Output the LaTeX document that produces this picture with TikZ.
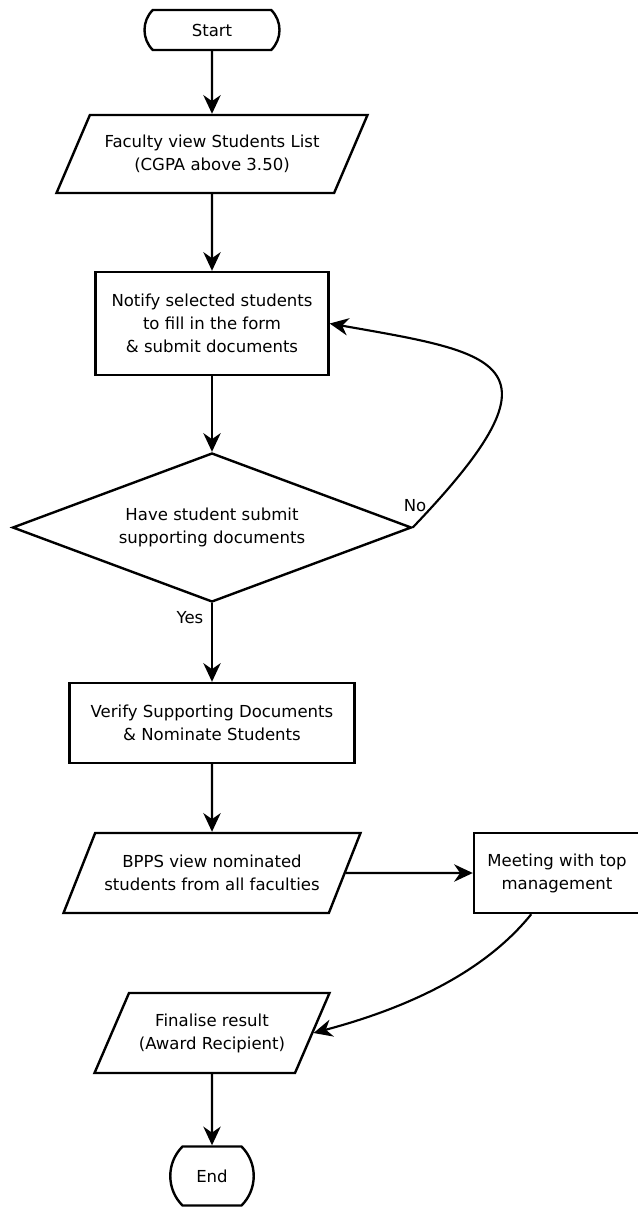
\documentclass[tikz,border=0pt]{standalone}
\usepackage{fontspec}
\setmainfont{DejaVu Sans}
\usetikzlibrary{shapes.geometric,shapes.misc,arrows.meta}

\begin{document}
\begin{tikzpicture}[x=0.75pt, y=0.75pt,
        every node/.style={font=\fontsize{12.4}{17.25}\selectfont, align=center},
        term/.style={draw, line width=1.8pt, rounded rectangle, rounded rectangle arc length=90, inner sep=0pt},
        box/.style={draw, line width=1.8pt, rectangle, inner sep=0pt},
        io/.style={draw, line width=1.8pt, trapezium, trapezium left angle=48.5, trapezium right angle=131.5, trapezium stretches body, inner sep=0pt},
        check/.style={draw, line width=1.8pt, diamond, aspect=2.68, inner sep=0pt},
        arr/.style={line width=1.6pt, -{Stealth[length=14pt,width=13pt,inset=4.5pt]}},
        lbl/.style={inner sep=1pt}]

        \useasboundingbox (0,0) rectangle (638,-1207);

        \node[term, minimum width=101.25pt, minimum height=30pt] (start) at (212,-30) {Start};
        \node[io, minimum width=233.25pt, minimum height=58.5pt] (faculty) at (212,-154) {Faculty view Students List\\(CGPA above 3.50)};
        \node[box, minimum width=174.75pt, minimum height=77.25pt] (notify) at (212,-323.5) {Notify selected students\\to fill in the form\\\& submit documents};
        \node[check, minimum width=299.25pt, minimum height=111.75pt] (have) at (212,-527.5) {Have student submit\\supporting documents};
        \node[box, minimum width=213.75pt, minimum height=60pt] (verify) at (212,-723) {Verify Supporting Documents\\\& Nominate Students};
        \node[io, minimum width=222.75pt, minimum height=60pt] (bpps) at (212,-873) {BPPS view nominated\\students from all faculties};
        \node[box, minimum width=124.5pt, minimum height=60pt] (meet) at (557,-873) {Meeting with top\\management};
        \node[io, minimum width=176.25pt, minimum height=60pt] (final) at (212,-1033) {Finalise result\\(Award Recipient)};
        \node[term, minimum width=44.25pt, minimum height=44.25pt] (stop) at (212,-1176) {End};

        \node[lbl] (no) at (415,-506) {No};
        \node[lbl] (yes) at (190,-618) {Yes};

        \draw[arr] (start) -- (faculty);
        \draw[arr] (faculty) -- (notify);
        \draw[arr] (notify) -- (have);
        \draw[arr] (have) -- (verify);
        \draw[arr] (have.east) .. controls +(159,166) and +(170,-30) .. (notify.east);
        \draw[arr] (verify) -- (bpps);
        \draw[arr] (bpps) -- (meet);
        \draw[arr] (meet.238) .. controls +(-50,-62) and +(86,23) .. (final.east);
        \draw[arr] (final) -- (stop);
\end{tikzpicture}
\end{document}
